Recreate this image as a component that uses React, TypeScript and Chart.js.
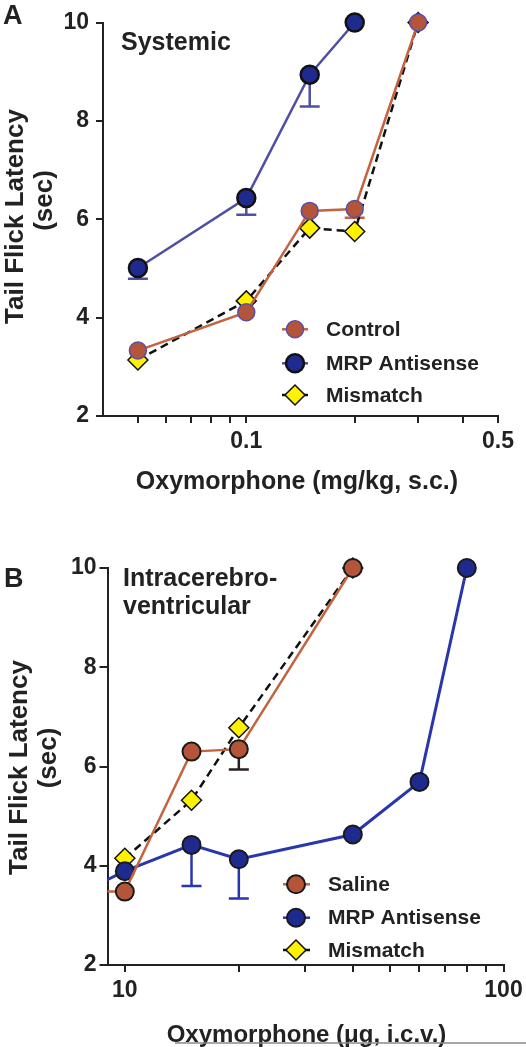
import React, { useEffect, useRef } from 'react';
import { Chart, registerables } from 'chart.js';

Chart.register(...registerables);

const FONT = '"Liberation Sans", Arial, Helvetica, sans-serif';

// ---------- Panel A: Systemic ----------
const dosesA = [0.05, 0.1, 0.15, 0.2, 0.3];
const controlA = [3.33, 4.11, 6.17, 6.21, 10];
const controlErrA = [null, null, null, 6.03, null];
const mrpDosesA = [0.05, 0.1, 0.15, 0.2];
const mrpA = [5.01, 6.43, 8.94, 10];
const mrpErrA = [4.79, 6.09, 8.29, null];
const mismatchA = [3.14, 4.34, 5.82, 5.75, 10];
const xTicksA = [0.05, 0.06, 0.07, 0.08, 0.09, 0.1, 0.2, 0.3, 0.4, 0.5];
const xLabelsA = [0.1, 0.5];
const legendA = ['Control', 'MRP Antisense', 'Mismatch'];

// ---------- Panel B: Intracerebroventricular ----------
const salineDosesB = [5, 10, 15, 20, 40];
const salineB = [3.48, 3.48, 6.3, 6.35, 10];
const salineErrB = [null, null, null, 5.94, null];
const mrpDosesB = [5, 10, 15, 20, 40, 60, 80];
const mrpB = [2.77, 3.89, 4.42, 4.13, 4.63, 5.69, 10];
const mrpErrB = [null, null, 3.59, 3.34, null, null, null];
const mismatchDosesB = [10, 15, 20, 40];
const mismatchB = [4.15, 5.32, 6.78, 10];
const xTicksB = [10, 20, 30, 40, 50, 60, 70, 80, 90, 100];
const xLabelsB = [10, 100];
const legendB = ['Saline', 'MRP Antisense', 'Mismatch'];

const yTicks = [2, 4, 6, 8, 10];

const BROWN_LINE = '#C2643F';
const BROWN_FILL = '#B4553A';
const NAVY_FILL = '#1F2A8E';
const BLUE_LINE_A = '#4F4FA3';
const BLUE_LINE_B = '#2A36AC';
const YELLOW = '#FFF200';
const INK = '#222222';

type Panel = {
  top: number;
  height: number;
  xMin: number;
  xMax: number;
  xTicks: number[];
  xLabels: number[];
  padding: { top: number; right: number; bottom: number; left: number };
  yWidth: number;
  xHeight: number;
  yTickLen: number;
  yTickPad: number;
  datasets: any[];
  texts: (ctx: CanvasRenderingContext2D) => void;
};

const pts = (xs: number[], ys: number[]) => xs.map((x, i) => ({ x, y: ys[i] }));

function bold(size: number) {
  return `bold ${size}px ${FONT}`;
}

function drawText(ctx: CanvasRenderingContext2D, t: string, x: number, y: number, size: number, align: CanvasTextAlign = 'left') {
  ctx.save();
  ctx.font = bold(size);
  ctx.fillStyle = INK;
  ctx.textAlign = align;
  ctx.textBaseline = 'alphabetic';
  ctx.fillText(t, x, y);
  ctx.restore();
}

function drawRot(ctx: CanvasRenderingContext2D, t: string, x: number, cy: number, size: number) {
  ctx.save();
  ctx.translate(x, cy);
  ctx.rotate(-Math.PI / 2);
  ctx.font = bold(size);
  ctx.fillStyle = INK;
  ctx.textAlign = 'center';
  ctx.textBaseline = 'alphabetic';
  ctx.fillText(t, 0, 0);
  ctx.restore();
}

function legendRow(
  ctx: CanvasRenderingContext2D,
  label: string,
  mx: number,
  y: number,
  x1: number,
  x2: number,
  tx: number,
  line: string,
  fill: string,
  stroke: string,
  shape: 'circle' | 'diamond',
  r: number,
  bw: number
) {
  ctx.save();
  ctx.strokeStyle = line;
  ctx.lineWidth = 2.5;
  ctx.beginPath();
  ctx.moveTo(x1, y);
  ctx.lineTo(x2, y);
  ctx.stroke();
  ctx.beginPath();
  if (shape === 'circle') {
    ctx.arc(mx, y, r, 0, Math.PI * 2);
  } else {
    ctx.moveTo(mx - r, y);
    ctx.lineTo(mx, y - r);
    ctx.lineTo(mx + r, y);
    ctx.lineTo(mx, y + r);
    ctx.closePath();
  }
  ctx.fillStyle = fill;
  ctx.fill();
  ctx.lineWidth = bw;
  ctx.strokeStyle = stroke;
  ctx.stroke();
  ctx.font = bold(21);
  ctx.fillStyle = INK;
  ctx.textAlign = 'left';
  ctx.textBaseline = 'middle';
  ctx.fillText(label, tx, y + 1);
  ctx.restore();
}

const errorBarPlugin = {
  id: 'errorBars',
  beforeDatasetsDraw(chart: any) {
    const ctx = chart.ctx;
    const xs = chart.scales.x;
    const ys = chart.scales.y;
    chart.data.datasets.forEach((ds: any) => {
      if (!ds.errLow) return;
      ctx.save();
      ctx.strokeStyle = ds.errColor;
      ctx.lineWidth = 2.5;
      ds.data.forEach((p: any, i: number) => {
        const lo = ds.errLow[i];
        if (lo === null || lo === undefined) return;
        const px = xs.getPixelForValue(p.x);
        const py = ys.getPixelForValue(p.y);
        const pl = ys.getPixelForValue(lo);
        ctx.beginPath();
        ctx.moveTo(px, py);
        ctx.lineTo(px, pl);
        ctx.moveTo(px - 10, pl);
        ctx.lineTo(px + 10, pl);
        ctx.stroke();
      });
      ctx.restore();
    });
  },
};

const CLIP = { left: 0, top: 20, right: 20, bottom: 20 };

const panelA: Panel = {
  top: 0,
  height: 520,
  xMin: 0.04,
  xMax: 0.5,
  xTicks: xTicksA,
  xLabels: xLabelsA,
  padding: { top: 22.5, right: 28, bottom: 44, left: 0 },
  yWidth: 103,
  xHeight: 60,
  yTickLen: 7,
  yTickPad: 7,
  datasets: [
    {
      label: legendA[0],
      data: pts(dosesA, controlA),
      errLow: controlErrA,
      errColor: BROWN_LINE,
      borderColor: BROWN_LINE,
      borderWidth: 2.5,
      pointStyle: 'circle',
      pointRadius: 8.5,
      pointBackgroundColor: BROWN_FILL,
      pointBorderColor: '#5A4FA8',
      pointBorderWidth: 1.5,
      clip: CLIP,
    },
    {
      label: legendA[1],
      data: pts(mrpDosesA, mrpA),
      errLow: mrpErrA,
      errColor: BLUE_LINE_A,
      borderColor: BLUE_LINE_A,
      borderWidth: 2.5,
      pointStyle: 'circle',
      pointRadius: 9,
      pointBackgroundColor: NAVY_FILL,
      pointBorderColor: '#111111',
      pointBorderWidth: 2.5,
      clip: CLIP,
    },
    {
      label: legendA[2],
      data: pts(dosesA, mismatchA),
      borderColor: '#111111',
      borderWidth: 2.5,
      borderDash: [8, 5],
      pointStyle: 'rectRot',
      pointRadius: 10,
      pointBackgroundColor: YELLOW,
      pointBorderColor: '#111111',
      pointBorderWidth: 1.5,
      clip: CLIP,
    },
  ],
  texts: (ctx) => {
    drawText(ctx, 'A', 3, 23.5, 27);
    drawText(ctx, 'Systemic', 121, 49.5, 25);
    drawRot(ctx, 'Tail Flick Latency', 23, 216.5, 26);
    drawRot(ctx, '(sec)', 52, 200.5, 26);
    drawText(ctx, 'Oxymorphone (mg/kg, s.c.)', 297, 489, 25, 'center');
    const rows = [329.3, 363.3, 395];
    legendRow(ctx, legendA[0], 295, rows[0], 282, 308, 326, BROWN_LINE, BROWN_FILL, '#5A4FA8', 'circle', 8.5, 1.5);
    legendRow(ctx, legendA[1], 295, rows[1], 282, 308, 326, BLUE_LINE_A, NAVY_FILL, '#111111', 'circle', 9, 2.5);
    legendRow(ctx, legendA[2], 295, rows[2], 282, 308, 326, '#111111', YELLOW, '#111111', 'diamond', 10, 1.5);
  },
};

const OFF = 520;
const panelB: Panel = {
  top: OFF,
  height: 527,
  xMin: 9,
  xMax: 100,
  xTicks: xTicksB,
  xLabels: xLabelsB,
  padding: { top: 568 - OFF, right: 526 - 503.5, bottom: 527 - (965 - OFF) - 60, left: 0 },
  yWidth: 107.5,
  xHeight: 60,
  yTickLen: 8,
  yTickPad: 3,
  datasets: [
    {
      label: legendB[0],
      data: pts(salineDosesB, salineB),
      errLow: salineErrB,
      errColor: '#2a2222',
      borderColor: BROWN_LINE,
      borderWidth: 2.5,
      pointStyle: 'circle',
      pointRadius: 9,
      pointBackgroundColor: BROWN_FILL,
      pointBorderColor: '#1a1a1a',
      pointBorderWidth: 2,
      clip: CLIP,
    },
    {
      label: legendB[1],
      data: pts(mrpDosesB, mrpB),
      errLow: mrpErrB,
      errColor: BLUE_LINE_B,
      borderColor: BLUE_LINE_B,
      borderWidth: 3,
      pointStyle: 'circle',
      pointRadius: 9,
      pointBackgroundColor: NAVY_FILL,
      pointBorderColor: '#1a1a1a',
      pointBorderWidth: 2,
      clip: CLIP,
    },
    {
      label: legendB[2],
      data: pts(mismatchDosesB, mismatchB),
      borderColor: '#111111',
      borderWidth: 2.5,
      borderDash: [8, 5],
      pointStyle: 'rectRot',
      pointRadius: 10,
      pointBackgroundColor: YELLOW,
      pointBorderColor: '#111111',
      pointBorderWidth: 1.5,
      clip: CLIP,
    },
  ],
  texts: (ctx) => {
    drawText(ctx, 'B', 4, 587 - OFF, 27);
    drawText(ctx, 'Intracerebro-', 123, 585.5 - OFF, 25);
    drawText(ctx, 'ventricular', 123, 614 - OFF, 25);
    drawRot(ctx, 'Tail Flick Latency', 27, 767.5 - OFF, 26);
    drawRot(ctx, '(sec)', 56, 758 - OFF, 26);
    drawText(ctx, 'Oxymorphone (\u03BCg, i.c.v.)', 306.5, 1041.5 - OFF, 24, 'center');
    ctx.save();
    ctx.strokeStyle = '#8a8a8a';
    ctx.lineWidth = 1.5;
    ctx.beginPath();
    ctx.moveTo(175, 1043 - OFF);
    ctx.lineTo(526, 1043 - OFF);
    ctx.stroke();
    ctx.restore();
    const rows = [884.3 - OFF, 917.7 - OFF, 950 - OFF];
    legendRow(ctx, legendB[0], 296, rows[0], 283, 310, 328, BROWN_LINE, BROWN_FILL, '#1a1a1a', 'circle', 9, 2);
    legendRow(ctx, legendB[1], 296, rows[1], 283, 310, 328, BLUE_LINE_B, NAVY_FILL, '#1a1a1a', 'circle', 9, 2);
    legendRow(ctx, legendB[2], 296, rows[2], 283, 310, 328, '#111111', YELLOW, '#111111', 'diamond', 10, 1.5);
  },
};

function makeConfig(p: Panel): any {
  const textPlugin = {
    id: 'panelTexts',
    afterDraw(chart: any) {
      p.texts(chart.ctx);
    },
  };
  return {
    type: 'line',
    data: { datasets: p.datasets },
    plugins: [errorBarPlugin, textPlugin],
    options: {
      responsive: false,
      animation: false,
      devicePixelRatio: 1,
      layout: { padding: p.padding },
      elements: { line: { tension: 0, fill: false } },
      plugins: {
        legend: { display: false },
        tooltip: { enabled: false },
      },
      scales: {
        x: {
          type: 'logarithmic',
          min: p.xMin,
          max: p.xMax,
          afterBuildTicks: (s: any) => {
            s.ticks = p.xTicks.map((v) => ({ value: v }));
          },
          afterFit: (s: any) => {
            s.height = p.xHeight;
            s.paddingLeft = 0;
            s.paddingRight = 0;
          },
          ticks: {
            autoSkip: false,
            maxRotation: 0,
            minRotation: 0,
            padding: 5,
            color: INK,
            font: { family: FONT, size: 23, weight: 'bold' },
            callback: (v: number) => (p.xLabels.indexOf(v) >= 0 ? String(v) : ''),
          },
          grid: {
            display: true,
            drawOnChartArea: false,
            drawTicks: true,
            tickLength: 7,
            color: INK,
            lineWidth: 2,
          },
          border: { display: true, color: INK, width: 2 },
        },
        y: {
          type: 'linear',
          min: 2,
          max: 10,
          afterBuildTicks: (s: any) => {
            s.ticks = yTicks.map((v) => ({ value: v }));
          },
          afterFit: (s: any) => {
            s.width = p.yWidth;
            s.paddingTop = 0;
            s.paddingBottom = 0;
          },
          ticks: {
            padding: p.yTickPad,
            color: INK,
            font: { family: FONT, size: 23, weight: 'bold' },
          },
          grid: {
            display: true,
            drawOnChartArea: false,
            drawTicks: true,
            tickLength: p.yTickLen,
            color: INK,
            lineWidth: 2,
          },
          border: { display: true, color: INK, width: 2 },
        },
      },
    },
  };
}

function PanelChart({ panel }: { panel: Panel }) {
  const ref = useRef<HTMLCanvasElement | null>(null);
  useEffect(() => {
    if (!ref.current) return;
    const chart = new Chart(ref.current, makeConfig(panel));
    return () => chart.destroy();
  }, [panel]);
  return (
    <canvas
      ref={ref}
      width={526}
      height={panel.height}
      style={{ position: 'absolute', left: 0, top: panel.top, width: 526, height: panel.height, display: 'block' }}
    />
  );
}

export default function App() {
  return (
    <div style={{ position: 'absolute', left: 0, top: 0, width: 526, height: 1047, background: '#ffffff', overflow: 'hidden' }}>
      <PanelChart panel={panelA} />
      <PanelChart panel={panelB} />
    </div>
  );
}
